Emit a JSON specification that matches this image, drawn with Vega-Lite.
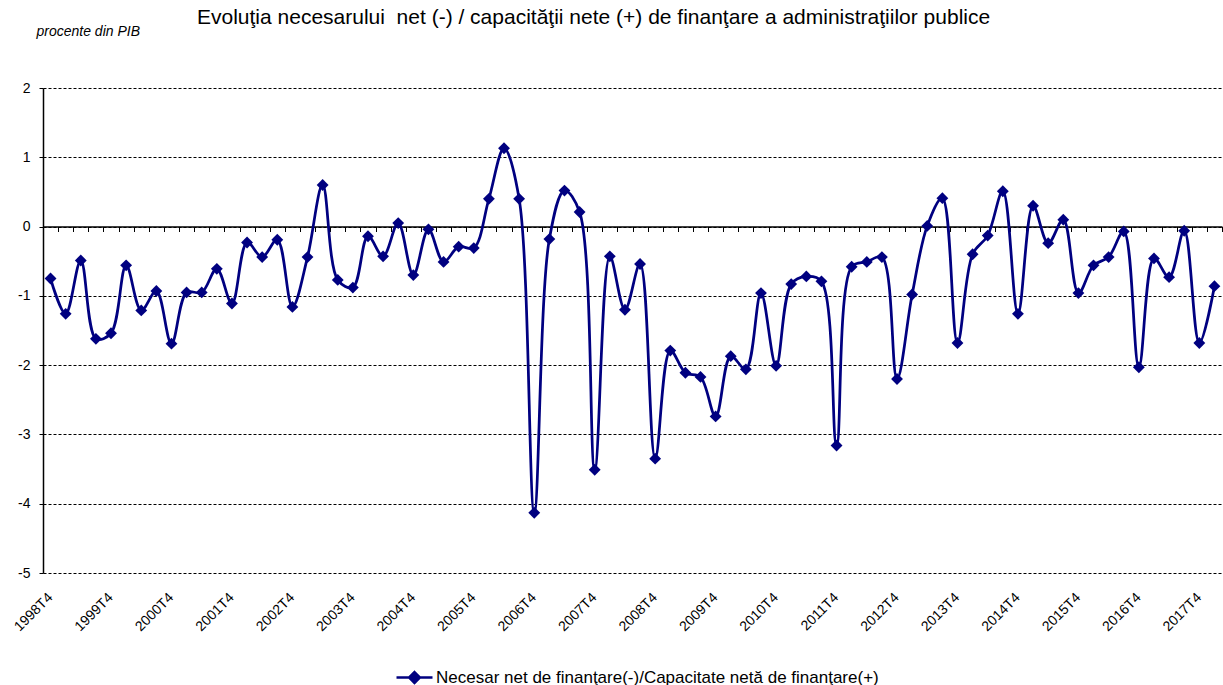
{
  "$schema": "https://vega.github.io/schema/vega-lite/v6.json",
  "width": 1179,
  "height": 485,
  "autosize": {"type": "none"},
  "padding": {"left": 43, "top": 88, "right": 1, "bottom": 112},
  "background": "white",
  "config": {
    "view": {"stroke": null},
    "font": "Liberation Sans"
  },
  "title": {
    "text": "Evoluţia necesarului\u00a0 net (-) / capacităţii nete (+) de finanţare a administraţiilor publice",
    "anchor": "start",
    "frame": "group",
    "dx": 154,
    "offset": -21,
    "baseline": "alphabetic",
    "fontSize": 21,
    "fontWeight": "normal",
    "font": "Liberation Sans",
    "color": "#000000"
  },
  "data": {
    "values": [
      {"q": "1998T4", "v": -0.75}, {"q": "1999T1", "v": -1.26}, {"q": "1999T2", "v": -0.49}, {"q": "1999T3", "v": -1.62},
      {"q": "1999T4", "v": -1.54}, {"q": "2000T1", "v": -0.56}, {"q": "2000T2", "v": -1.21}, {"q": "2000T3", "v": -0.93},
      {"q": "2000T4", "v": -1.69}, {"q": "2001T1", "v": -0.95}, {"q": "2001T2", "v": -0.95}, {"q": "2001T3", "v": -0.61},
      {"q": "2001T4", "v": -1.11}, {"q": "2002T1", "v": -0.23}, {"q": "2002T2", "v": -0.44}, {"q": "2002T3", "v": -0.19},
      {"q": "2002T4", "v": -1.16}, {"q": "2003T1", "v": -0.44}, {"q": "2003T2", "v": 0.60}, {"q": "2003T3", "v": -0.77},
      {"q": "2003T4", "v": -0.88}, {"q": "2004T1", "v": -0.14}, {"q": "2004T2", "v": -0.43}, {"q": "2004T3", "v": 0.05},
      {"q": "2004T4", "v": -0.70}, {"q": "2005T1", "v": -0.04}, {"q": "2005T2", "v": -0.51}, {"q": "2005T3", "v": -0.29},
      {"q": "2005T4", "v": -0.31}, {"q": "2006T1", "v": 0.40}, {"q": "2006T2", "v": 1.13}, {"q": "2006T3", "v": 0.40},
      {"q": "2006T4", "v": -4.13}, {"q": "2007T1", "v": -0.18}, {"q": "2007T2", "v": 0.52}, {"q": "2007T3", "v": 0.21},
      {"q": "2007T4", "v": -3.51}, {"q": "2008T1", "v": -0.43}, {"q": "2008T2", "v": -1.20}, {"q": "2008T3", "v": -0.54},
      {"q": "2008T4", "v": -3.35}, {"q": "2009T1", "v": -1.79}, {"q": "2009T2", "v": -2.11}, {"q": "2009T3", "v": -2.17},
      {"q": "2009T4", "v": -2.74}, {"q": "2010T1", "v": -1.87}, {"q": "2010T2", "v": -2.06}, {"q": "2010T3", "v": -0.96},
      {"q": "2010T4", "v": -2.01}, {"q": "2011T1", "v": -0.83}, {"q": "2011T2", "v": -0.72}, {"q": "2011T3", "v": -0.79},
      {"q": "2011T4", "v": -3.16}, {"q": "2012T1", "v": -0.58}, {"q": "2012T2", "v": -0.51}, {"q": "2012T3", "v": -0.44},
      {"q": "2012T4", "v": -2.20}, {"q": "2013T1", "v": -0.98}, {"q": "2013T2", "v": 0.01}, {"q": "2013T3", "v": 0.41},
      {"q": "2013T4", "v": -1.68}, {"q": "2014T1", "v": -0.40}, {"q": "2014T2", "v": -0.13}, {"q": "2014T3", "v": 0.51},
      {"q": "2014T4", "v": -1.26}, {"q": "2015T1", "v": 0.30}, {"q": "2015T2", "v": -0.24}, {"q": "2015T3", "v": 0.10},
      {"q": "2015T4", "v": -0.96}, {"q": "2016T1", "v": -0.56}, {"q": "2016T2", "v": -0.44}, {"q": "2016T3", "v": -0.07},
      {"q": "2016T4", "v": -2.03}, {"q": "2017T1", "v": -0.46}, {"q": "2017T2", "v": -0.73}, {"q": "2017T3", "v": -0.06},
      {"q": "2017T4", "v": -1.68}, {"q": "2018T1", "v": -0.86}
    ]
  },
  "resolve": {"axis": {"x": "independent"}},
  "layer": [
    {
      "mark": {"type": "line", "interpolate": "catmull-rom", "color": "#000080", "strokeWidth": 2.75},
      "encoding": {
        "x": {
          "field": "q", "type": "ordinal", "sort": null,
          "scale": {"type": "band", "paddingInner": 0, "paddingOuter": 0},
          "axis": {
            "orient": "bottom",
            "title": null,
            "domain": false,
            "ticks": false,
            "grid": false,
            "values": ["1998T4","1999T4","2000T4","2001T4","2002T4","2003T4","2004T4","2005T4","2006T4","2007T4","2008T4","2009T4","2010T4","2011T4","2012T4","2013T4","2014T4","2015T4","2016T4","2017T4"],
            "labelAngle": -45,
            "labelAlign": "right",
            "labelBaseline": "middle",
            "labelPadding": 22,
            "labelFontSize": 14,
            "labelColor": "#000000",
            "labelFont": "Liberation Sans"
          }
        },
        "y": {
          "field": "v", "type": "quantitative",
          "scale": {"domain": [-5, 2], "nice": false, "zero": false},
          "axis": {
            "values": [-5, -4, -3, -2, -1, 0, 1, 2],
            "labelExpr": "'' + datum.value",
            "title": "procente din PIB",
            "titleAngle": 0,
            "titleAlign": "left",
            "titleBaseline": "middle",
            "titleX": -7,
            "titleY": -57,
            "titleFontStyle": "italic",
            "titleFontWeight": "normal",
            "titleFontSize": 14,
            "titleFont": "Liberation Sans",
            "titleColor": "#000000",
            "domainColor": "#000000",
            "domainWidth": 1.5,
            "tickColor": "#000000",
            "tickSize": 4,
            "tickWidth": 1,
            "labelPadding": 9,
            "labelFontSize": 14,
            "labelColor": "#000000",
            "labelFont": "Liberation Sans",
            "grid": true,
            "gridColor": "#000000",
            "gridDash": [3, 2],
            "gridWidth": 1
          }
        }
      }
    },
    {
      "mark": {"type": "point", "shape": "diamond", "filled": true, "size": 140, "opacity": 1},
      "encoding": {
        "x": {
          "field": "q", "type": "ordinal", "sort": null,
          "axis": {
            "orient": "bottom",
            "offset": -346.5,
            "title": null,
            "labels": false,
            "grid": false,
            "domain": true,
            "domainColor": "#000000",
            "domainWidth": 1.5,
            "ticks": true,
            "tickBand": "extent",
            "tickColor": "#000000",
            "tickSize": 5,
            "tickWidth": 1
          }
        },
        "y": {"field": "v", "type": "quantitative"},
        "color": {
          "datum": "Necesar net de finanţare(-)/Capacitate netă de finanţare(+)",
          "scale": {"range": ["#000080"]},
          "legend": {
            "title": null,
            "orient": "none",
            "legendX": 352,
            "legendY": 570,
            "padding": 0,
            "symbolType": "M-1,0L1,0M0,-0.3L0.3,0L0,0.3L-0.3,0Z",
            "symbolSize": 1296,
            "symbolStrokeWidth": 2.5,
            "symbolStrokeColor": "#000080",
            "symbolFillColor": "#000080",
            "labelFontSize": 17,
            "labelLimit": 0,
            "labelFont": "Liberation Sans",
            "labelColor": "#000000",
            "labelOffset": 2
          }
        }
      }
    }
  ]
}
